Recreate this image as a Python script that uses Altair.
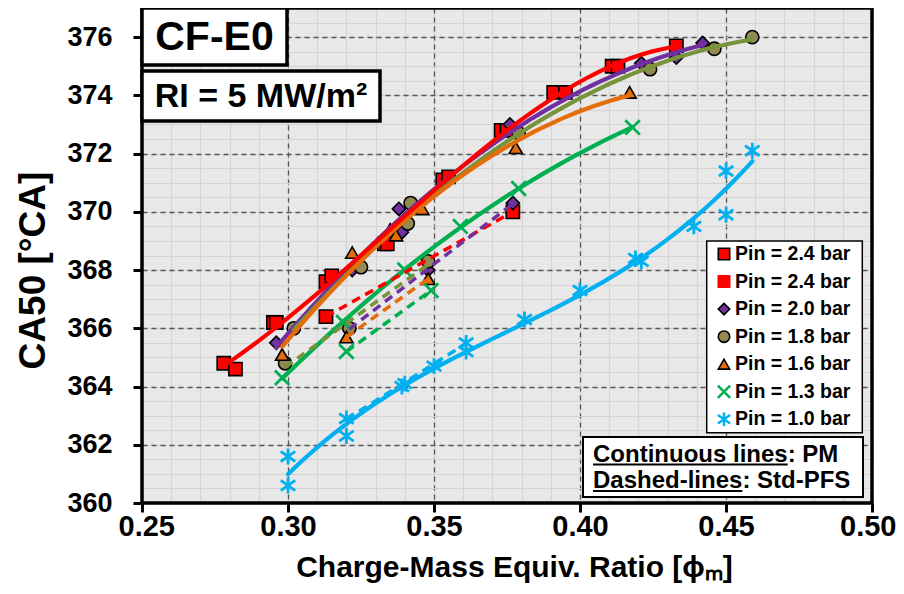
import altair as alt
import pandas as pd

# ---------------- data ----------------
KEYS = ["2.4a", "2.4b", "2.0", "1.8", "1.6", "1.3", "1.0"]
LEGEND_LABELS = ["Pin = 2.4 bar", "Pin = 2.4 bar", "Pin = 2.0 bar", "Pin = 1.8 bar",
                 "Pin = 1.6 bar", "Pin = 1.3 bar", "Pin = 1.0 bar"]

pm_24_x = [0.278, 0.282, 0.295, 0.296, 0.313, 0.315, 0.333, 0.334, 0.353, 0.355,
           0.373, 0.375, 0.391, 0.395, 0.411, 0.413, 0.433]
pm_24_y = [364.8, 364.6, 366.2, 366.2, 367.6, 367.8, 368.9, 368.9, 371.1, 371.2,
           372.8, 372.8, 374.1, 374.1, 375.0, 375.0, 375.7]
std_24_x = [0.313, 0.377]
std_24_y = [366.4, 370.0]

pm_20_x = [0.296, 0.322, 0.339, 0.338, 0.376, 0.421, 0.433, 0.442]
pm_20_y = [365.5, 368.0, 369.3, 370.1, 373.0, 375.1, 375.3, 375.8]
std_20_x = [0.321, 0.348, 0.377]
std_20_y = [366.0, 368.0, 370.3]

pm_18_x = [0.302, 0.325, 0.341, 0.342, 0.379, 0.424, 0.446, 0.459]
pm_18_y = [366.0, 368.1, 369.6, 370.3, 372.7, 374.9, 375.6, 376.0]
std_18_x = [0.299, 0.321, 0.348]
std_18_y = [364.8, 366.0, 368.3]

pm_16_x = [0.298, 0.322, 0.335, 0.337, 0.346, 0.378, 0.417]
pm_16_y = [365.1, 368.6, 369.4, 369.2, 370.1, 372.2, 374.1]
std_16_x = [0.320, 0.348]
std_16_y = [365.7, 367.7]

pm_13_x = [0.298, 0.319, 0.340, 0.359, 0.379, 0.418]
pm_13_y = [364.3, 366.2, 368.0, 369.5, 370.8, 372.9]
std_13_x = [0.320, 0.349]
std_13_y = [365.2, 367.3]

pm_10_x = [0.300, 0.300, 0.320, 0.339, 0.350, 0.361, 0.381, 0.400, 0.419, 0.421,
           0.439, 0.450, 0.450, 0.459]
pm_10_y = [361.6, 360.6, 362.3, 364.0, 364.7, 365.2, 366.3, 367.3, 368.4, 368.3,
           369.5, 371.4, 369.9, 372.1]
std_10_x = [0.320, 0.340, 0.361]
std_10_y = [362.9, 364.1, 365.5]

X_TICKS = [0.25, 0.30, 0.35, 0.40, 0.45, 0.50]
Y_TICKS = [360, 362, 364, 366, 368, 370, 372, 374, 376]
X_MINOR = [0.25, 0.26, 0.27, 0.28, 0.29, 0.30, 0.31, 0.32, 0.33, 0.34, 0.35, 0.36, 0.37,
           0.38, 0.39, 0.40, 0.41, 0.42, 0.43, 0.44, 0.45, 0.46, 0.47, 0.48, 0.49, 0.50]
Y_MINOR = [360 + 0.5 * i for i in range(35)]

# ---------------- table ----------------
rows = []
def add(key, mode, xs, ys):
    for a, b in zip(xs, ys):
        rows.append({"key": key, "mode": mode, "x": a, "y": b})

add("2.4a", "PM", pm_24_x, pm_24_y); add("2.4a", "Std", std_24_x, std_24_y)
add("2.0", "PM", pm_20_x, pm_20_y); add("2.0", "Std", std_20_x, std_20_y)
add("1.8", "PM", pm_18_x, pm_18_y); add("1.8", "Std", std_18_x, std_18_y)
add("1.6", "PM", pm_16_x, pm_16_y); add("1.6", "Std", std_16_x, std_16_y)
add("1.3", "PM", pm_13_x, pm_13_y); add("1.3", "Std", std_13_x, std_13_y)
add("1.0", "PM", pm_10_x, pm_10_y); add("1.0", "Std", std_10_x, std_10_y)
pts = pd.DataFrame(rows)

legend_df = pd.DataFrame({"key": KEYS, "label": LEGEND_LABELS, "idx": list(range(len(KEYS)))})
one = pd.DataFrame({"k": [0]})

# ---------------- styles ----------------
FONT = "Liberation Sans"
X_PATH = "M-1,-1L1,1M-1,1L1,-1"
STAR_PATH = "M-1,-0.7L1,0.7M-1,0.7L1,-0.7M0,-1.1L0,1.1"
SHAPES = ["square", "square", "diamond", "circle", "triangle-up", X_PATH, STAR_PATH]
FILLS = ["#ff0000", "#ff0000", "#7030a0", "#938953", "#e46c0a", "transparent", "transparent"]
STROKES = ["#000000", "#ff0000", "#000000", "#000000", "#000000", "#00b050", "#00b0f0"]
LINE_COLORS = ["#ff0000", "#ff0000", "#7030a0", "#77933c", "#e46c0a", "#00b050", "#00b0f0"]
FILLED_KEYS = ["2.4a", "2.4b", "2.0", "1.8", "1.6"]
CROSS_KEYS = ["1.3", "1.0"]
ORDER3_KEYS = ["2.4a", "1.0"]

W, H = 730, 495
xs = alt.Scale(domain=[0.25, 0.5], nice=False, zero=False)
ys = alt.Scale(domain=[360, 377], nice=False, zero=False)
shape_enc = alt.Shape("key:N", scale=alt.Scale(domain=KEYS, range=SHAPES), legend=None)
fill_enc = alt.Fill("key:N", scale=alt.Scale(domain=KEYS, range=FILLS), legend=None)
stroke_enc = alt.Stroke("key:N", scale=alt.Scale(domain=KEYS, range=STROKES), legend=None)
line_color = alt.Color("key:N", scale=alt.Scale(domain=KEYS, range=LINE_COLORS), legend=None)
X = alt.X("x:Q", scale=xs, axis=None)
Y = alt.Y("y:Q", scale=ys, axis=None)

# ---------------- axes / grids ----------------
minor = alt.Chart(pts).mark_point(opacity=0).encode(
    x=alt.X("x:Q", scale=xs, axis=alt.Axis(orient="top", values=X_MINOR, grid=True,
            gridColor="#d4d4d4", gridWidth=1.2, labels=False, ticks=False, domain=False, title="")),
    y=alt.Y("y:Q", scale=ys, axis=alt.Axis(orient="right", values=Y_MINOR, grid=True,
            gridColor="#d4d4d4", gridWidth=1.2, labels=False, ticks=False, domain=False, title="")),
)

major = alt.Chart(pts).mark_point(opacity=0).encode(
    x=alt.X("x:Q", scale=xs, axis=alt.Axis(
        orient="bottom", values=X_TICKS, format=".2f", grid=True, gridDash=[5, 4],
        gridColor="#555555", gridWidth=1.3, domain=False, ticks=True, tickColor="black",
        tickWidth=3, tickSize=9, labelFont=FONT, labelFontSize=29, labelFontWeight="bold",
        labelColor="black", labelPadding=0, labelFlush=True, labelFlushOffset=24,
        labelOverlap=False,
        title="Charge-Mass Equiv. Ratio [ϕₘ]", titleFont=FONT, titleFontSize=30,
        titleFontWeight="bold", titleColor="black", titlePadding=11, titleX=372)),
    y=alt.Y("y:Q", scale=ys, axis=alt.Axis(
        orient="left", values=Y_TICKS, grid=True, gridDash=[5, 4], gridColor="#555555",
        gridWidth=1.3, domain=False, ticks=True, tickColor="black", tickWidth=3, tickSize=9,
        labelFont=FONT, labelFontSize=27, labelFontWeight="bold", labelColor="black",
        labelPadding=21, labelOverlap=False, title="CA50 [°CA]", titleFont=FONT,
        titleFontSize=37, titleFontWeight="bold", titleColor="black", titlePadding=14,
        titleY=262)),
)

# ---------------- markers ----------------
filled_pts = alt.Chart(pts).transform_filter(
    alt.FieldOneOfPredicate(field="key", oneOf=FILLED_KEYS)
).mark_point(filled=True, size=175, strokeWidth=1.6, opacity=1).encode(
    x=X, y=Y, shape=shape_enc, fill=fill_enc, stroke=stroke_enc)

cross_pts = alt.Chart(pts).transform_filter(
    alt.FieldOneOfPredicate(field="key", oneOf=CROSS_KEYS)
).mark_point(filled=False, size=210, strokeWidth=2.8, opacity=1).encode(
    x=X, y=Y, shape=shape_enc, stroke=stroke_enc)

# ---------------- trend lines ----------------
solid = alt.Chart(pts).transform_filter(
    (alt.datum.mode == "PM")
).transform_filter(
    {"not": alt.FieldOneOfPredicate(field="key", oneOf=ORDER3_KEYS)}
).transform_regression("x", "y", groupby=["key"], method="poly", order=2
).mark_line(strokeWidth=4.2, strokeCap="round").encode(x=X, y=Y, color=line_color)

solid3 = alt.Chart(pts).transform_filter(
    (alt.datum.mode == "PM")
).transform_filter(
    alt.FieldOneOfPredicate(field="key", oneOf=ORDER3_KEYS)
).transform_regression("x", "y", groupby=["key"], method="poly", order=3
).mark_line(strokeWidth=4.2, strokeCap="round").encode(x=X, y=Y, color=line_color)

dashed = alt.Chart(pts).transform_filter(alt.datum.mode == "Std"
).transform_regression("x", "y", groupby=["key"], method="linear"
).mark_line(strokeWidth=3.5, strokeDash=[9, 6]).encode(x=X, y=Y, color=line_color)

# ---------------- frame & annotations ----------------
border = alt.Chart(one).mark_rect(fill="transparent", stroke="black", strokeWidth=3.5).encode(
    x=alt.value(0), x2=alt.value(W), y=alt.value(0), y2=alt.value(H))

box1 = alt.Chart(one).mark_rect(fill="white", stroke="black", strokeWidth=3.5).encode(
    x=alt.value(0), x2=alt.value(145), y=alt.value(0), y2=alt.value(57))
txt1 = alt.Chart(one).mark_text(font=FONT, fontSize=41, fontWeight="bold", color="black",
                                align="center", baseline="middle").encode(
    x=alt.value(72.5), y=alt.value(30), text=alt.value("CF-E0"))
box2 = alt.Chart(one).mark_rect(fill="white", stroke="black", strokeWidth=3.5).encode(
    x=alt.value(0), x2=alt.value(238), y=alt.value(63), y2=alt.value(113))
txt2 = alt.Chart(one).mark_text(font=FONT, fontSize=34, fontWeight="bold", color="black",
                                align="center", baseline="middle").encode(
    x=alt.value(119), y=alt.value(89), text=alt.value("RI = 5 MW/m²"))

box3 = alt.Chart(one).mark_rect(fill="white", stroke="black", strokeWidth=2).encode(
    x=alt.value(441), x2=alt.value(721), y=alt.value(429), y2=alt.value(489))
txt3a = alt.Chart(one).mark_text(font=FONT, fontSize=24, fontWeight="bold", color="black",
                                 align="left", baseline="alphabetic").encode(
    x=alt.value(451), y=alt.value(453.5), text=alt.value("Continuous lines: PM"))
txt3b = alt.Chart(one).mark_text(font=FONT, fontSize=24, fontWeight="bold", color="black",
                                 align="left", baseline="alphabetic").encode(
    x=alt.value(451), y=alt.value(480), text=alt.value("Dashed-lines: Std-PFS"))
ul_a = alt.Chart(one).mark_rule(color="black", strokeWidth=2).encode(
    x=alt.value(451), x2=alt.value(645.7), y=alt.value(456.5))
ul_b = alt.Chart(one).mark_rule(color="black", strokeWidth=2).encode(
    x=alt.value(451), x2=alt.value(600.4), y=alt.value(483))

# ---------------- legend ----------------
leg_y = alt.Y("idx:Q", scale=alt.Scale(domain=[0, 6], range=[246, 411.3], nice=False, zero=False),
              axis=None)
leg_box = alt.Chart(one).mark_rect(fill="white", stroke="black", strokeWidth=1.5).encode(
    x=alt.value(564.7), x2=alt.value(720.3), y=alt.value(233), y2=alt.value(424.7))
leg_filled = alt.Chart(legend_df).transform_filter(
    alt.FieldOneOfPredicate(field="key", oneOf=FILLED_KEYS)
).mark_point(filled=True, size=130, strokeWidth=1.6, opacity=1).encode(
    x=alt.value(582), y=leg_y, shape=shape_enc, fill=fill_enc, stroke=stroke_enc)
leg_cross = alt.Chart(legend_df).transform_filter(
    alt.FieldOneOfPredicate(field="key", oneOf=CROSS_KEYS)
).mark_point(filled=False, size=150, strokeWidth=2.5, opacity=1).encode(
    x=alt.value(582), y=leg_y, shape=shape_enc, stroke=stroke_enc)
leg_text = alt.Chart(legend_df).mark_text(font=FONT, fontSize=19.5, fontWeight="bold",
                                          color="black", align="left", baseline="middle").encode(
    x=alt.value(593), y=leg_y, text="label:N")

chart = alt.layer(
    minor, major, filled_pts, cross_pts, solid, solid3, dashed, border,
    box1, txt1, box2, txt2, box3, txt3a, txt3b, ul_a, ul_b,
    leg_box, leg_filled, leg_cross, leg_text,
).resolve_scale(y="independent").resolve_axis(x="independent", y="independent").properties(
    width=W, height=H,
    padding={"left": 134, "top": 0, "right": 24, "bottom": 83},
    autosize=alt.AutoSizeParams(type="none"),
    background="white",
).configure_view(fill="#e8e8e8", stroke="transparent")

chart.save("out.html", embed_options={"renderer": "svg", "actions": False})
